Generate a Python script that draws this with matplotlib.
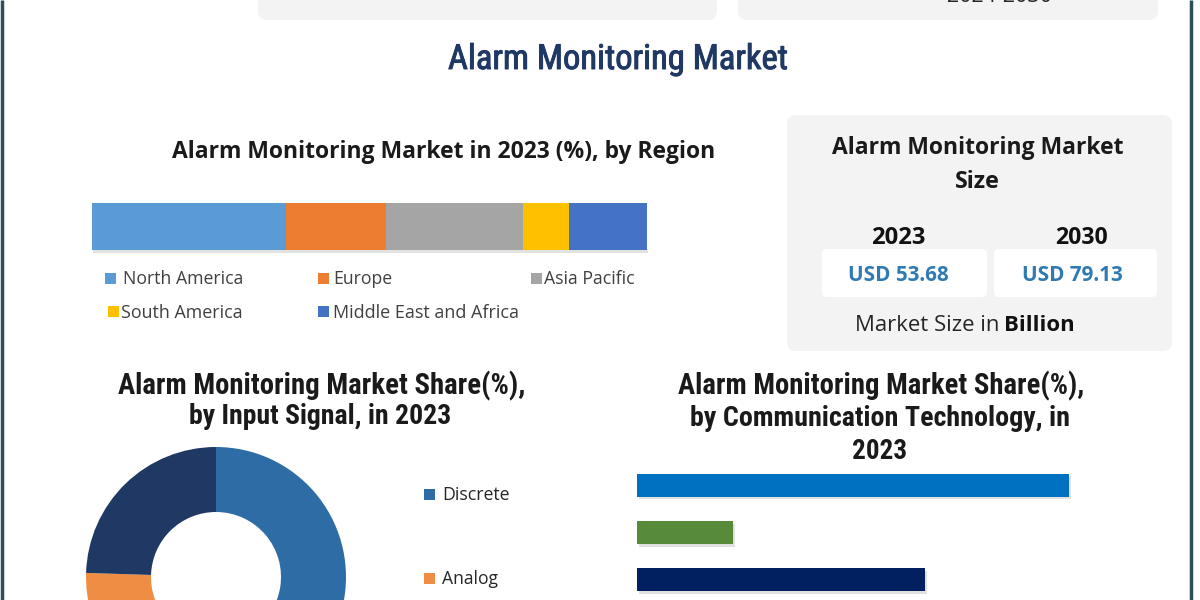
import matplotlib
matplotlib.use("Agg")
import matplotlib.pyplot as plt
from matplotlib.patches import FancyBboxPatch, Rectangle
from matplotlib import patheffects as pe
from matplotlib import font_manager

# ---------------- data ----------------
main_title = "Alarm Monitoring Market"
region_title = "Alarm Monitoring Market in 2023 (%), by Region"
regions = ["North America", "Europe", "Asia Pacific", "South America", "Middle East and Africa"]
region_share = [35.0, 18.0, 24.7, 8.3, 14.0]
region_colors = ["#5b9bd5", "#ed7d31", "#a5a5a5", "#ffc000", "#4472c4"]

size_title = ["Alarm Monitoring Market", "Size"]
size_years = ["2023", "2030"]
size_values = ["USD 53.68", "USD 79.13"]
size_note = ["Market Size in", "Billion"]
period = "2024-2030"

signal_title = ["Alarm Monitoring Market Share(%),", "by Input Signal, in 2023"]
signals = ["Discrete", "Analog", "Others"]
signal_share = [55.0, 20.5, 24.5]
signal_colors = ["#2e6ca5", "#f08d45", "#1f3864"]

comm_title = ["Alarm Monitoring Market Share(%),", "by Communication Technology, in", "2023"]
comm_tech = ["Cellular", "Radio", "Internet"]
comm_share = [45.0, 10.0, 30.0]
comm_colors = ["#0070c0", "#578a39", "#002060"]

# ---------------- fonts ----------------
avail = {f.name for f in font_manager.fontManager.ttflist}
def pick(*names):
    for n in names:
        if n in avail:
            return n
    return "DejaVu Sans"
F_REG = pick("Open Sans", "Noto Sans", "DejaVu Sans")
F_NARROW = pick("Liberation Sans Narrow", "Roboto Condensed", "Open Sans", "DejaVu Sans")

W, H = 1200, 600
DY = 2.5
fig = plt.figure(figsize=(12, 6), dpi=100)
fig.patch.set_facecolor("white")
bg = fig.add_axes([0, 0, 1, 1])
bg.set_xlim(0, W)
bg.set_ylim(H, 0)
bg.axis("off")
renderer = fig.canvas.get_renderer()

def fit_text(x0, x1, y, s, family, weight="normal", color="#1a1a1a", zorder=5, effects=None):
    t = bg.text(0, y + DY, s, fontsize=10, family=family, weight=weight, color=color,
                ha="left", va="center", zorder=zorder)
    w = t.get_window_extent(renderer).width
    t.set_fontsize(10 * (x1 - x0) / w)
    t.set_x(x0)
    if effects:
        t.set_path_effects(effects)
    return t

def px_axes(x0, y0, x1, y1, zorder=3):
    return fig.add_axes([x0 / W, 1 - y1 / H, (x1 - x0) / W, (y1 - y0) / H], zorder=zorder)

def rbox(x0, y0, x1, y1, fc, r=8, ec="none", z=1):
    p = FancyBboxPatch((x0 + r, y0 + r), (x1 - x0) - 2 * r, (y1 - y0) - 2 * r,
                       boxstyle=f"round,pad={r}", fc=fc, ec=ec, zorder=z)
    bg.add_patch(p)

# ---------------- frame & boxes ----------------
bg.plot([2, 2], [0, H], color="#2f4f58", lw=2.5, zorder=10, solid_capstyle="butt")
bg.plot([1190.5, 1190.5], [0, H], color="#2f4f58", lw=2.5, zorder=10, solid_capstyle="butt")
rbox(258, -30, 717, 20, "#f3f3f3", r=9)
rbox(738, -30, 1158, 20, "#f3f3f3", r=9)
fit_text(947, 1052, -6, period, F_REG, color="#262626")
rbox(787, 115, 1172, 351, "#f3f3f3", r=9)
rbox(822, 249, 987, 297, "white", r=5, z=2)
rbox(994, 249, 1157, 297, "white", r=5, z=2)

# ---------------- titles ----------------
fit_text(448, 787, 57, main_title, F_NARROW, color="#1f3864",
         effects=[pe.withStroke(linewidth=0.7, foreground="#1f3864")])
fit_text(172, 717, 150, region_title, F_REG, weight="bold")

fit_text(832, 1125, 146, size_title[0], F_REG, weight="bold")
fit_text(955, 1000, 179, size_title[1], F_REG, weight="bold")
fit_text(871, 925, 236, size_years[0], F_REG, weight="bold", color="#111111")
fit_text(1055, 1108, 236, size_years[1], F_REG, weight="bold", color="#111111")
fit_text(848, 948, 273, size_values[0], F_REG, weight="bold", color="#2f7ab2", zorder=6)
fit_text(1022, 1123, 273, size_values[1], F_REG, weight="bold", color="#2f7ab2", zorder=6)

# "Market Size in Billion" with the same size for both parts
tA = fit_text(855, 1000, 323, size_note[0], F_REG, color="#262626")
fs_note = tA.get_fontsize()
tB = bg.text(0, 323 + DY, size_note[1], fontsize=fs_note, family=F_REG, weight="bold",
             color="#111111", ha="left", va="center", zorder=5)
xa = tA.get_window_extent(renderer).x1
sp = fs_note * 0.28
tB.set_x(xa + sp)

fit_text(118, 525, 383, signal_title[0], F_NARROW, weight="bold")
fit_text(189, 451, 414, signal_title[1], F_NARROW, weight="bold")
fit_text(678, 1083, 383, comm_title[0], F_NARROW, weight="bold")
fit_text(690, 1070, 416, comm_title[1], F_NARROW, weight="bold")
fit_text(852, 907, 449, comm_title[2], F_NARROW, weight="bold")

# ---------------- stacked region bar ----------------
axr = px_axes(92, 203, 647, 250)
left = 0.0
for name, val, col in zip(regions, region_share, region_colors):
    axr.barh(0, val, left=left, height=1.0, color=col, edgecolor="none")
    left += val
axr.set_xlim(0, sum(region_share))
axr.set_ylim(-0.5, 0.5)
axr.axis("off")
# soft shadow under the bar
bg.add_patch(Rectangle((93, 249), 555, 4, fc="#cfcfcf", ec="none", alpha=0.6, zorder=1))

# region legend
leg_pos = [(105, 123, 277, 243), (318, 333, 277, 392), (531, 544, 277, 635),
           (108, 121, 310, 243), (318, 333, 310, 520)]
for (mx, tx, ty, tx1), name, col in zip(leg_pos, regions, region_colors):
    bg.add_patch(Rectangle((mx, ty - 5.5 + DY * 0.4), 11, 11, fc=col, ec="none", zorder=5))
    fit_text(tx, tx1, ty, name, F_REG, color="#404040")

# ---------------- donut ----------------
cx, cy, R = 216, 577, 130
axd = px_axes(cx - R, cy - R, cx + R, cy + R)
axd.pie(signal_share, colors=signal_colors, startangle=90, counterclock=False,
        radius=1.0, wedgeprops=dict(width=0.5, edgecolor="none"))
axd.set_xlim(-1, 1)
axd.set_ylim(-1, 1)
axd.set_aspect("equal")
axd.axis("off")

sig_leg = [(424, 442, 493, 510), (424, 442, 577, 498)]
for (mx, tx, ty, tx1), name, col in zip(sig_leg, signals, signal_colors):
    bg.add_patch(Rectangle((mx, ty - 5.5 + DY * 0.4), 11, 11, fc=col, ec="none", zorder=5))
    fit_text(tx, tx1, ty, name, F_REG, color="#262626")

# ---------------- comm tech bars ----------------
unit = 47.0
axb = px_axes(637, 485.5 - 0.5 * unit, 637 + 9.6 * 50, 485.5 + 2.5 * unit)
ypos = list(range(len(comm_tech)))
axb.barh(ypos, comm_share, height=23 / unit, color=comm_colors, edgecolor="none",
         path_effects=[pe.SimplePatchShadow(offset=(1.2, -1.8), shadow_rgbFace="#888888", alpha=0.25), pe.Normal()])
axb.set_xlim(0, 50)
axb.set_ylim(2.5, -0.5)
axb.axis("off")

fig.savefig("out.png", dpi=100, facecolor="white")
